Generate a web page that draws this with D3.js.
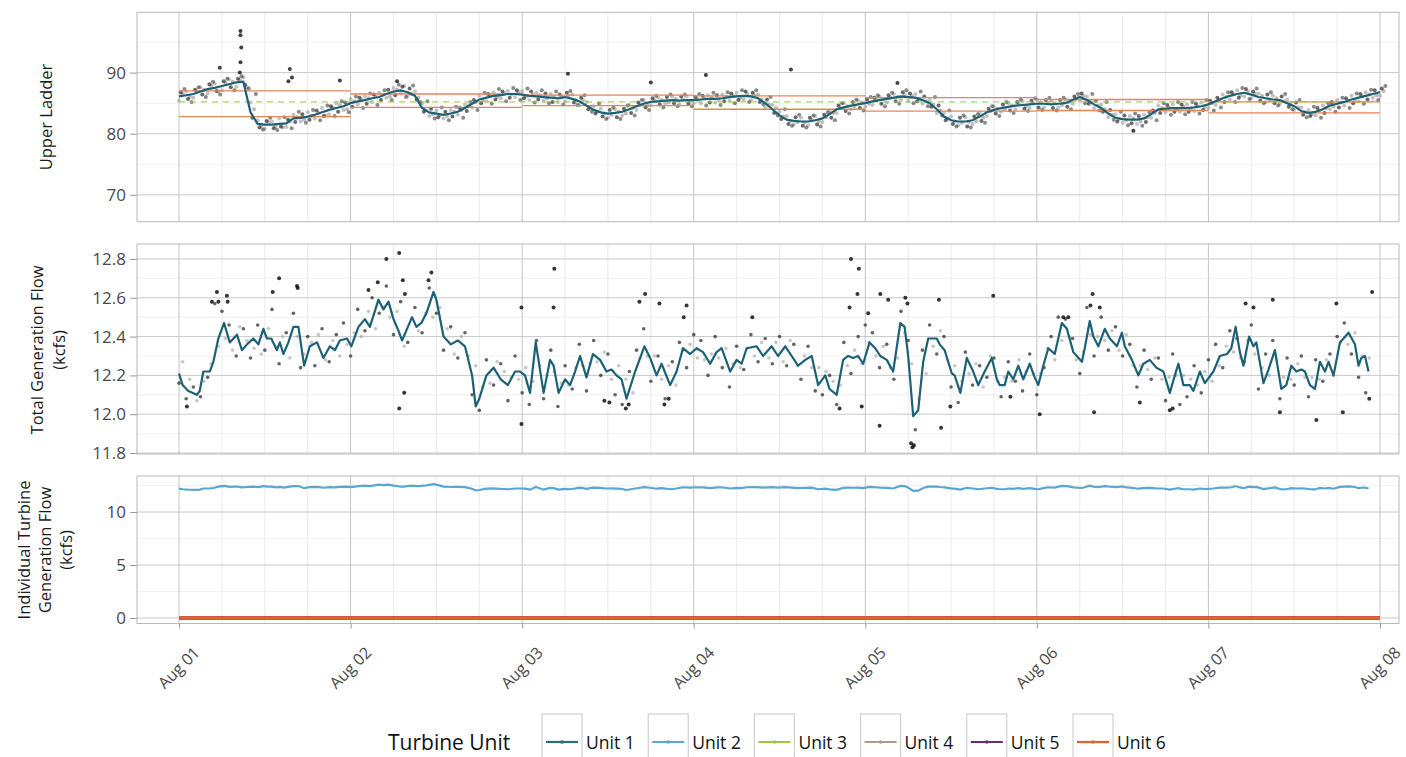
<!DOCTYPE html>
<html>
<head>
<meta charset="utf-8">
<script src="https://cdn.jsdelivr.net/npm/d3@7/dist/d3.min.js"></script>
<style>
  html, body { margin: 0; padding: 0; background: #ffffff; }
  svg { display: block; font-family: "Open Sans", "Noto Sans", sans-serif; }
</style>
</head>
<body>
<svg id="chart" width="1406" height="757"></svg>
<script>
// ---------- categories ----------
const dayLabels = ["Aug 01", "Aug 02", "Aug 03", "Aug 04", "Aug 05", "Aug 06", "Aug 07", "Aug 08"];
const dayHours = [0, 24, 48, 72, 96, 120, 144, 168];
const unitNames = ["Unit 1", "Unit 2", "Unit 3", "Unit 4", "Unit 5", "Unit 6"];
const unitColors = ["#2b6f72", "#5aa6d0", "#9cc93a", "#a99d8c", "#6d2b6e", "#e0622c"];

// ---------- upper ladder (hourly, hour 0 = Aug 01 00:00) ----------
const ladderUnit1 = [
  86.1, 86.3, 86.5, 86.9, 87.3, 87.5, 87.8, 88.1, 88.4, 88.5, 83.5, 81.6, 81.5, 81.5, 81.6, 81.7, 82.5, 82.6, 82.8, 83.1, 83.5, 83.9, 84.2, 84.5, 85.0,
  85.3, 85.5, 85.8, 86.0, 86.5, 86.9, 87.1, 86.8, 86.2, 84.2, 83.5, 83.3, 83.1, 83.3, 83.6, 84.2, 84.9, 85.6, 85.9, 86.2, 86.3, 86.5, 86.5, 86.4,
  86.2, 86.1, 86.0, 85.9, 85.8, 86.0, 85.7, 85.3, 84.6, 83.9, 83.5, 83.3, 83.4, 83.6, 84.0, 84.5, 84.9, 85.2, 85.3, 85.4, 85.5, 85.4, 85.5, 85.5,
  85.6, 85.7, 85.7, 85.8, 86.0, 86.1, 86.2, 86.1, 85.8, 85.0, 84.0, 83.0, 82.3, 82.1, 82.0, 82.0, 82.2, 82.5, 83.2, 84.0, 84.3, 84.6, 84.8, 85.0,
  85.3, 85.5, 85.7, 85.9, 86.1, 86.0, 85.9, 85.5, 85.0, 84.0, 82.8, 82.2, 82.0, 82.0, 82.2, 82.8, 83.5, 83.9, 84.2, 84.4, 84.6, 84.7, 84.8, 84.9,
  84.9, 84.8, 84.9, 85.0, 85.5, 86.0, 85.5, 84.8, 84.2, 83.3, 82.6, 82.4, 82.3, 82.3, 82.5, 83.2, 84.0, 84.1, 84.2, 84.2, 84.2, 84.3, 84.5, 84.8,
  85.3, 85.8, 86.2, 86.5, 86.7, 86.4, 86.0, 85.8, 85.6, 85.5, 85.0, 84.5, 83.7, 83.4, 83.6, 84.0, 84.6, 84.9, 85.2, 85.6, 85.9, 86.2, 86.5, 86.8
];
const ladderObsA = [
  86.8, 85.7, 87.2, 86.4, 88.1, 87.0, 88.6, 87.6, 89.0, 88.0, 82.6, 81.0, 82.1, 80.9, 81.2, 82.3, 81.9, 83.2, 82.3, 83.8, 82.9, 84.5, 83.6, 85.1, 84.4,
  85.9, 84.9, 86.4, 85.5, 87.2, 86.3, 87.7, 87.4, 85.6, 83.6, 84.1, 82.7, 83.6, 82.8, 84.2, 83.7, 85.5, 85.0, 86.5, 85.6, 86.9, 85.9, 87.1, 85.8,
  86.9, 85.6, 86.6, 85.2, 86.4, 86.7, 85.1, 85.9, 84.0, 83.3, 82.8, 83.9, 82.7, 84.1, 83.4, 85.1, 84.3, 85.8, 84.8, 86.0, 85.0, 86.1, 84.9, 86.0,
  86.2, 85.1, 86.3, 85.3, 86.6, 85.5, 86.9, 86.7, 85.2, 85.6, 83.4, 82.4, 81.6, 82.7, 81.3, 82.6, 81.5, 83.1, 82.6, 84.6, 83.7, 85.2, 84.2, 85.6,
  85.9, 84.9, 86.3, 85.3, 86.8, 86.6, 85.3, 86.1, 84.4, 84.6, 82.2, 81.6, 82.6, 81.2, 82.8, 82.1, 84.1, 83.3, 84.8, 83.8, 85.2, 84.1, 85.4, 84.3,
  85.5, 84.2, 85.5, 84.4, 86.1, 86.6, 84.9, 85.4, 83.6, 83.9, 82.0, 83.0, 81.7, 82.9, 81.9, 83.8, 83.4, 84.7, 83.6, 84.8, 83.6, 84.9, 83.9, 85.4,
  85.9, 85.2, 86.8, 85.9, 87.3, 86.9, 85.4, 86.4, 85.0, 86.1, 84.4, 85.1, 83.1, 82.9, 84.2, 83.4, 85.2, 84.3, 85.8, 85.0, 86.5, 85.6, 87.1, 87.4
];
const ladderObsB = [
  85.4, 86.9, 85.9, 87.6, 86.6, 88.2, 87.1, 88.9, 87.7, 89.2, 85.1, 82.2, 80.8, 82.0, 82.5, 81.1, 83.1, 82.0, 83.5, 82.5, 84.2, 83.2, 85.0, 83.9, 85.7,
  84.8, 86.1, 85.2, 86.7, 85.9, 87.5, 86.6, 86.2, 86.9, 84.9, 82.9, 83.8, 82.5, 83.9, 83.1, 84.8, 84.3, 86.2, 85.3, 86.8, 85.8, 87.0, 86.0, 87.0,
  85.5, 86.7, 85.4, 86.5, 85.2, 85.3, 86.4, 84.7, 85.2, 84.5, 84.1, 82.6, 84.0, 83.0, 84.7, 83.9, 85.5, 84.6, 85.9, 84.9, 86.1, 84.8, 86.1, 85.0,
  85.0, 86.3, 85.1, 86.4, 85.4, 86.7, 85.6, 85.5, 86.4, 84.3, 84.7, 83.6, 82.9, 81.5, 82.6, 81.4, 82.9, 81.9, 83.8, 83.4, 85.0, 84.0, 85.4, 84.4,
  84.7, 86.1, 85.1, 86.5, 85.5, 85.4, 86.5, 84.9, 85.6, 83.4, 83.4, 82.8, 81.4, 82.7, 81.6, 83.4, 82.9, 84.5, 83.6, 85.0, 84.0, 85.3, 84.2, 85.5,
  84.3, 85.4, 84.3, 85.6, 84.9, 85.4, 86.1, 84.2, 84.8, 82.7, 83.2, 81.8, 82.9, 81.6, 83.1, 82.6, 84.6, 83.5, 84.8, 83.6, 84.8, 83.7, 85.1, 84.2,
  84.7, 86.4, 85.6, 87.1, 86.1, 85.8, 86.6, 85.2, 86.2, 84.9, 85.6, 83.9, 84.3, 83.9, 83.0, 84.6, 84.0, 85.5, 84.6, 86.2, 85.3, 86.8, 85.9, 86.2
];
const ladderObsC = [
  86.5, 86.0, 86.9, 87.2, 87.9, 86.9, 88.3, 88.5, 88.8, 87.6, 84.0, 81.3, 81.9, 81.2, 81.0, 82.0, 82.7, 82.3, 82.9, 83.4, 83.0, 84.3, 84.7, 84.0, 85.3,
  85.6, 85.8, 86.2, 86.4, 86.1, 87.2, 87.8, 86.5, 85.9, 83.8, 83.2, 83.0, 82.9, 83.6, 83.9, 84.5, 85.2, 85.4, 86.2, 86.0, 86.6, 86.4, 86.8, 86.1,
  86.4, 86.3, 85.8, 86.1, 86.0, 86.2, 85.5, 85.5, 84.4, 83.6, 83.3, 83.1, 83.6, 83.3, 84.2, 84.7, 84.6, 85.4, 85.5, 85.1, 85.7, 85.6, 85.3, 85.7,
  85.8, 85.9, 85.5, 86.1, 86.2, 85.8, 86.5, 86.3, 85.6, 84.8, 84.2, 82.8, 82.1, 81.9, 81.8, 82.3, 82.0, 82.7, 83.4, 84.2, 84.5, 84.4, 85.1, 84.9,
  85.5, 85.7, 85.9, 86.0, 86.3, 86.2, 85.7, 85.3, 84.8, 83.8, 82.5, 82.0, 81.8, 81.9, 82.0, 82.6, 83.7, 84.1, 84.0, 84.6, 84.8, 84.5, 85.0, 85.1,
  85.0, 85.0, 84.7, 85.2, 85.7, 86.2, 85.3, 84.6, 84.0, 83.1, 82.4, 82.2, 82.5, 82.0, 82.7, 83.4, 84.2, 84.3, 84.0, 84.4, 84.0, 84.5, 84.3, 85.0,
  85.5, 86.0, 86.4, 86.3, 86.9, 86.6, 86.2, 85.6, 85.8, 85.3, 84.8, 84.3, 83.5, 83.2, 83.8, 84.2, 84.4, 85.1, 85.4, 85.4, 86.1, 86.4, 86.3, 87.0
];
const ladderObsD = [
  87.3, 85.2, 87.6, 86.0, 88.5, 86.4, 89.0, 87.1, 89.4, 87.4, 86.5, 80.7, 82.6, 80.6, 82.7, 80.9, 83.6, 81.8, 83.9, 82.2, 84.6, 82.9, 85.3, 83.5, 86.1,
  84.2, 86.6, 84.7, 87.1, 85.5, 88.0, 86.0, 87.9, 85.2, 85.3, 82.5, 84.3, 82.2, 84.4, 82.6, 85.2, 83.9, 86.7, 84.9, 87.3, 85.3, 87.5, 85.5, 87.4,
  85.1, 87.1, 85.0, 86.9, 84.8, 87.0, 84.7, 86.3, 83.6, 84.9, 82.4, 84.3, 82.4, 84.6, 83.0, 85.5, 83.9, 86.2, 84.3, 86.4, 84.5, 86.4, 84.5, 86.5,
  84.6, 86.7, 84.7, 86.8, 85.0, 87.1, 85.2, 87.1, 84.8, 86.0, 83.0, 84.0, 81.3, 83.1, 81.0, 83.0, 81.2, 83.5, 82.2, 85.0, 83.3, 85.6, 83.8, 86.0,
  86.3, 84.5, 86.7, 84.9, 87.1, 85.0, 86.9, 84.5, 86.0, 83.0, 83.8, 81.2, 83.0, 81.0, 83.2, 81.8, 84.5, 82.9, 85.2, 83.4, 85.6, 83.7, 85.8, 83.9,
  85.9, 83.8, 85.9, 84.0, 86.5, 85.0, 86.5, 83.8, 85.2, 82.3, 83.6, 81.4, 83.3, 81.3, 83.5, 82.2, 85.0, 83.1, 85.2, 83.2, 85.2, 83.3, 85.5, 83.8,
  84.3, 86.8, 85.2, 87.5, 85.7, 87.4, 85.0, 86.8, 84.6, 86.5, 84.0, 85.5, 82.7, 84.4, 82.6, 85.0, 83.6, 85.9, 84.2, 86.6, 84.9, 87.2, 85.5, 87.8
];
const ladderOutlierHours  = [8.6, 8.6, 8.7, 8.6, 8.5, 5.7, 15.5, 15.8, 15.3, 22.5, 54.4, 73.7, 85.6, 133.5, 30.5, 66.0, 100.5];
const ladderOutlierValues = [96.8, 96.1, 94.1, 91.7, 90.0, 90.8, 90.6, 89.2, 88.6, 88.7, 89.8, 89.6, 90.5, 80.5, 88.6, 88.4, 88.3];

// daily criteria band for the ladder and the target level
const criteriaStart = [0, 24, 48, 72, 96, 120, 144];
const criteriaEnd   = [24, 48, 72, 96, 120, 144, 168];
const criteriaUpper = [87.0, 86.5, 86.3, 86.2, 85.9, 85.6, 85.2];
const criteriaLower = [82.8, 84.3, 84.6, 84.0, 83.7, 83.8, 83.4];
const targetLevel = 85.2;

// ---------- total generation flow (kcfs) ----------
const flowHours = [
  0, 0.5, 1.3, 2.5, 2.9, 3.4, 4.3, 4.8, 5.5, 6.3,
  7.1, 8.1, 8.8, 9.5, 10.4, 11.1, 11.8, 12.3, 12.9, 13.7,
  14.1, 14.6, 15.3, 16.0, 16.7, 17.5, 18.3, 19.3, 20.2, 21.1,
  21.8, 22.5, 23.5, 24.1, 25.1, 26.0, 26.7, 27.9, 28.6, 29.3,
  30.0, 30.7, 31.2, 31.9, 32.6, 33.2, 33.9, 34.6, 35.6, 36.0,
  37.0, 38.0, 39.0, 40.0, 41.0, 41.5, 42.0, 43.0, 44.0, 45.0,
  46.0, 47.0, 47.7, 48.4, 49.1, 49.9, 51.0, 51.9, 52.4, 53.1,
  54.0, 54.7, 55.4, 56.1, 57.0, 57.9, 58.9, 59.8, 60.5, 61.2,
  61.9, 62.6, 63.8, 65.1, 65.9, 66.8, 67.5, 68.7, 69.6, 70.5,
  71.5, 72.4, 73.3, 74.3, 75.2, 75.9, 77.1, 78.0, 78.7, 79.4,
  80.8, 81.7, 82.9, 83.8, 84.8, 85.7, 86.6, 87.6, 88.5, 89.4,
  90.4, 91.0, 92.0, 92.9, 93.6, 94.3, 95.0, 95.7, 96.6, 97.4,
  98.1, 99.0, 99.9, 100.9, 101.5, 102.0, 102.7, 103.4, 104.1, 104.8,
  106.0, 106.4, 107.1, 108.1, 108.5, 109.3, 110.2, 111.1, 111.8, 112.7,
  113.7, 114.4, 114.8, 115.5, 116.0, 116.7, 117.4, 118.1, 119.0, 119.7,
  120.2, 120.9, 121.6, 122.5, 123.5, 124.2, 125.1, 126.3, 126.7, 127.4,
  127.9, 128.6, 129.5, 130.2, 131.2, 131.9, 132.3, 133.3, 134.2, 134.9,
  135.8, 136.7, 137.7, 138.6, 139.3, 139.8, 140.5, 141.4, 141.9, 142.8,
  143.5, 144.7, 145.6, 146.6, 147.2, 147.8, 148.4, 148.9, 149.7, 150.3,
  150.7, 151.7, 152.4, 153.3, 154.2, 154.9, 155.6, 156.3, 157.0, 157.5,
  158.2, 158.9, 159.6, 160.3, 160.8, 161.5, 162.4, 163.6, 164.5, 165.0,
  165.4, 165.9, 166.4
];
const flowTotal = [
  12.21, 12.15, 12.12, 12.10, 12.12, 12.22, 12.22, 12.27, 12.39, 12.47,
  12.37, 12.41, 12.33, 12.36, 12.39, 12.36, 12.44, 12.39, 12.39, 12.33,
  12.37, 12.31, 12.37, 12.45, 12.45, 12.25, 12.35, 12.37, 12.29, 12.35,
  12.33, 12.38, 12.39, 12.35, 12.45, 12.49, 12.45, 12.59, 12.54, 12.58,
  12.49, 12.43, 12.38, 12.44, 12.50, 12.45, 12.47, 12.52, 12.63, 12.59,
  12.40, 12.36, 12.38, 12.35, 12.20, 12.04, 12.08, 12.20, 12.24, 12.18,
  12.15, 12.22, 12.22, 12.20, 12.11, 12.37, 12.11, 12.28, 12.25, 12.11,
  12.18, 12.15, 12.22, 12.30, 12.19, 12.31, 12.28, 12.22, 12.23, 12.20,
  12.18, 12.08, 12.22, 12.35, 12.29, 12.20, 12.26, 12.15, 12.22, 12.34,
  12.31, 12.34, 12.32, 12.26, 12.32, 12.34, 12.22, 12.28, 12.26, 12.34,
  12.35, 12.30, 12.35, 12.30, 12.35, 12.30, 12.25, 12.28, 12.30, 12.15,
  12.20, 12.13, 12.10, 12.28, 12.30, 12.29, 12.30, 12.26, 12.37, 12.34,
  12.30, 12.28, 12.22, 12.47, 12.45, 12.30, 11.99, 12.02, 12.27, 12.39,
  12.39, 12.36, 12.33, 12.21, 12.20, 12.11, 12.29, 12.22, 12.15, 12.22,
  12.29, 12.18, 12.15, 12.15, 12.22, 12.18, 12.25, 12.18, 12.26, 12.19,
  12.15, 12.25, 12.34, 12.31, 12.47, 12.44, 12.32, 12.27, 12.34, 12.48,
  12.40, 12.35, 12.44, 12.39, 12.35, 12.42, 12.35, 12.28, 12.20, 12.26,
  12.28, 12.24, 12.22, 12.11, 12.20, 12.26, 12.15, 12.15, 12.12, 12.22,
  12.16, 12.22, 12.30, 12.31, 12.34, 12.45, 12.32, 12.25, 12.40, 12.35,
  12.37, 12.16, 12.23, 12.33, 12.13, 12.15, 12.25, 12.22, 12.23, 12.22,
  12.15, 12.13, 12.27, 12.22, 12.27, 12.20, 12.37, 12.42, 12.36, 12.25,
  12.29, 12.30, 12.22
];
// hourly readings (hour 0..166)
const flowObsDark = [
  12.16, 12.08, 12.14, 12.09, 12.19, 12.57, 12.53, 12.46, 12.30, 12.44, 12.29, 12.46, 12.33, 12.54, 12.26, 12.42, 12.52, 12.24, 12.40, 12.25, 12.44, 12.27, 12.41, 12.47, 12.30,
  12.54, 12.43, 12.60, 12.52, 12.66, 12.41, 12.58, 12.37, 12.55, 12.42, 12.65, 12.52, 12.33, 12.45, 12.29, 12.42, 12.10, 12.02, 12.28, 12.15, 12.26, 12.07, 12.30, 12.11,
  12.05, 12.38, 12.08, 12.33, 12.04, 12.25, 12.13, 12.36, 12.12, 12.38, 12.20, 12.31, 12.10, 12.05, 12.22, 12.33, 12.44, 12.17, 12.30, 12.08, 12.27, 12.37, 12.24, 12.41,
  12.38, 12.20, 12.40, 12.24, 12.14, 12.35, 12.23, 12.41, 12.27, 12.39, 12.26, 12.40, 12.25, 12.36, 12.18, 12.35, 12.12, 12.10, 12.20, 12.05, 12.37, 12.21, 12.40, 12.46,
  12.42, 12.24, 12.36, 12.18, 12.53, 12.38, 11.92, 12.33, 12.46, 12.31, 12.40, 12.14, 12.06, 12.32, 12.15, 12.25, 12.19, 12.29, 12.09, 12.27, 12.17, 12.12, 12.31, 12.10,
  12.24, 12.40, 12.50, 12.49, 12.39, 12.21, 12.55, 12.30, 12.50, 12.33, 12.45, 12.30, 12.36, 12.14, 12.33, 12.18, 12.29, 12.07, 12.31, 12.05, 12.09, 12.25, 12.11, 12.28,
  12.36, 12.24, 12.43, 12.39, 12.27, 12.46, 12.13, 12.31, 12.38, 12.08, 12.29, 12.15, 12.30, 12.09, 12.28, 12.17, 12.31, 12.40, 12.47, 12.31, 12.19, 12.11
];
const flowObsLight = [
  12.27, 12.18, 12.07, 12.17, 12.26, 12.35, 12.39, 12.33, 12.45, 12.38, 12.34, 12.31, 12.44, 12.35, 12.40, 12.29, 12.40, 12.31, 12.37, 12.41, 12.28, 12.38, 12.30, 12.36, 12.42,
  12.40, 12.53, 12.44, 12.55, 12.50, 12.53, 12.35, 12.49, 12.43, 12.52, 12.50, 12.55, 12.44, 12.31, 12.40, 12.30, 12.25, 12.14, 12.16, 12.27, 12.22, 12.19, 12.18, 12.24,
  12.17, 12.25, 12.20, 12.22, 12.16, 12.15, 12.24, 12.25, 12.26, 12.27, 12.32, 12.18, 12.25, 12.18, 12.11, 12.29, 12.30, 12.30, 12.18, 12.25, 12.15, 12.33, 12.36, 12.29,
  12.28, 12.31, 12.29, 12.34, 12.26, 12.24, 12.34, 12.30, 12.37, 12.29, 12.37, 12.27, 12.38, 12.25, 12.30, 12.24, 12.24, 12.22, 12.17, 12.15, 12.25, 12.33, 12.26, 12.37,
  12.30, 12.35, 12.24, 12.29, 12.42, 12.26, 12.08, 12.21, 12.35, 12.43, 12.28, 12.25, 12.17, 12.21, 12.26, 12.14, 12.30, 12.17, 12.19, 12.17, 12.28, 12.22, 12.21, 12.21,
  12.34, 12.28, 12.38, 12.40, 12.28, 12.32, 12.41, 12.40, 12.38, 12.43, 12.33, 12.41, 12.25, 12.25, 12.23, 12.29, 12.18, 12.19, 12.20, 12.20, 12.18, 12.15, 12.22, 12.17,
  12.25, 12.35, 12.32, 12.29, 12.38, 12.31, 12.24, 12.20, 12.28, 12.19, 12.18, 12.26, 12.19, 12.19, 12.18, 12.28, 12.20, 12.37, 12.36, 12.42, 12.30, 12.29
];
const flowOutlierHours = [
  1.1, 4.6, 5.3, 5.5, 6.7, 6.8, 13.1, 14.0, 16.5, 16.6,
  27.8, 29.0, 26.5, 30.8, 30.8, 31.5, 31.3, 31.6, 35.3, 34.9,
  47.9, 47.9, 52.5, 52.4, 64.4, 65.2, 67.2, 71.0, 70.6, 62.5,
  62.9, 60.2, 59.5, 67.9, 68.5, 80.2, 94.0, 95.1, 94.9, 93.8,
  98.1, 99.2, 96.4, 98.0, 102.4, 102.6, 102.8, 101.6, 101.9, 106.3,
  106.6, 92.4, 95.5, 113.9, 127.8, 153.0, 166.9, 161.9, 149.2, 150.3,
  127.5, 128.8, 123.7, 124.4, 128.0, 159.1, 154.0, 162.8, 139.0, 138.6,
  120.4, 107.9, 166.5, 116.3, 134.4
];
const flowOutlierValues = [
  12.04, 12.58, 12.63, 12.58, 12.61, 12.58, 12.63, 12.70, 12.66, 12.65,
  12.68, 12.80, 12.64, 12.83, 12.03, 12.11, 12.69, 12.62, 12.73, 12.69,
  11.95, 12.55, 12.75, 12.55, 12.58, 12.62, 12.57, 12.56, 12.50, 12.03,
  12.05, 12.06, 12.07, 12.05, 12.08, 12.50, 12.80, 12.75, 12.62, 12.55,
  12.62, 12.59, 12.52, 11.94, 11.85, 11.83, 11.84, 12.60, 12.57, 12.59,
  11.93, 12.03, 12.04, 12.61, 12.62, 12.59, 12.63, 12.57, 12.57, 12.55,
  12.56, 12.55, 12.50, 12.50, 12.01, 11.97, 12.01, 12.01, 12.03, 12.02,
  12.00, 12.04, 12.08, 12.09, 12.06
];

// ---------- individual turbine flow: only Unit 2 generates ----------
const unitFlowHours = flowHours;
const unit2Flow = flowTotal;
const idleUnitFlow = [0, 0];          // Units 1, 3, 4, 5, 6 stay at zero
const idleUnitHours = [0, 168];

// ---------- drawing ----------
const svg = d3.select("#chart");
const plotLeft = 137, plotRight = 1399;
const x = d3.scaleLinear().domain([-5.88, 170.66]).range([plotLeft, plotRight]);
const minorHours = d3.range(6, 168, 6).filter(h => h % 24 !== 0);

const ladderColor = "#1c6176";
const font = '"Open Sans", "Noto Sans", sans-serif';

function makePanel(id, top, bottom, domain, major, minor, fmt) {
  const y = d3.scaleLinear().domain(domain).range([bottom, top]);
  const g = svg.append("g").attr("class", "panel-" + id);
  g.append("rect").attr("x", plotLeft).attr("y", top)
    .attr("width", plotRight - plotLeft).attr("height", bottom - top).attr("fill", "#ffffff");
  // minor grid
  g.append("g").selectAll("line").data(minor).join("line")
    .attr("x1", plotLeft).attr("x2", plotRight)
    .attr("y1", d => y(d)).attr("y2", d => y(d))
    .attr("stroke", "#ededed").attr("stroke-width", 0.8);
  g.append("g").selectAll("line").data(minorHours).join("line")
    .attr("x1", d => x(d)).attr("x2", d => x(d))
    .attr("y1", top).attr("y2", bottom)
    .attr("stroke", "#e6e6e6").attr("stroke-width", 0.8);
  // major grid
  g.append("g").selectAll("line").data(major).join("line")
    .attr("x1", plotLeft).attr("x2", plotRight)
    .attr("y1", d => y(d)).attr("y2", d => y(d))
    .attr("stroke", "#c9c9c9").attr("stroke-width", 1);
  g.append("g").selectAll("line").data(dayHours).join("line")
    .attr("x1", d => x(d)).attr("x2", d => x(d))
    .attr("y1", top).attr("y2", bottom)
    .attr("stroke", "#c4c4c4").attr("stroke-width", 1);

  svg.append("clipPath").attr("id", "clip-" + id).append("rect")
    .attr("x", plotLeft).attr("y", top).attr("width", plotRight - plotLeft).attr("height", bottom - top);
  const plot = svg.append("g").attr("clip-path", `url(#clip-${id})`);

  // border
  svg.append("rect").attr("x", plotLeft).attr("y", top)
    .attr("width", plotRight - plotLeft).attr("height", bottom - top)
    .attr("fill", "none").attr("stroke", "#b8b8b8").attr("stroke-width", 1);

  // y axis
  const ax = svg.append("g").attr("transform", `translate(${plotLeft},0)`)
    .call(d3.axisLeft(y).tickValues(major).tickSize(7).tickPadding(4).tickFormat(fmt));
  ax.select(".domain").remove();
  ax.selectAll(".tick line").attr("stroke", "#9a9a9a");
  ax.selectAll(".tick text").attr("font-size", 17).attr("fill", "#4a4a4a").attr("font-family", font);
  return { y, plot };
}

// ----- panel 1: upper ladder -----
const p1 = makePanel("ladder", 12.3, 221.7, [65.6, 99.87], [70, 80, 90], [75, 85, 95], d3.format("d"));
const hourIdx = d3.range(ladderUnit1.length);

function ladderDots(values, shift, color, opacity) {
  p1.plot.append("g").selectAll("circle").data(hourIdx).join("circle")
    .attr("cx", i => x(i + shift)).attr("cy", i => p1.y(values[i]))
    .attr("r", 2).attr("fill", color).attr("opacity", opacity);
}
ladderDots(ladderObsB, 0, "#9a9a9a", 0.6);
ladderDots(ladderObsC, 0.5, "#8f7f70", 0.55);
ladderDots(ladderObsD, 0.75, "#2a2a2a", 0.55);
ladderDots(ladderObsA, 0.25, "#1a1a1a", 0.65);
p1.plot.append("g").selectAll("circle").data(d3.range(ladderOutlierHours.length)).join("circle")
  .attr("cx", i => x(ladderOutlierHours[i])).attr("cy", i => p1.y(ladderOutlierValues[i]))
  .attr("r", 2).attr("fill", "#111").attr("opacity", 0.8);

// criteria band
const seg = d3.range(criteriaStart.length);
p1.plot.append("g").selectAll("line").data(seg).join("line")
  .attr("x1", i => x(criteriaStart[i])).attr("x2", i => x(criteriaEnd[i]))
  .attr("y1", i => p1.y(criteriaUpper[i])).attr("y2", i => p1.y(criteriaUpper[i]))
  .attr("stroke", "#e8835a").attr("stroke-width", 1.3);
p1.plot.append("g").selectAll("line").data(seg).join("line")
  .attr("x1", i => x(criteriaStart[i])).attr("x2", i => x(criteriaEnd[i]))
  .attr("y1", i => p1.y(criteriaLower[i])).attr("y2", i => p1.y(criteriaLower[i]))
  .attr("stroke", "#e8835a").attr("stroke-width", 1.3);
p1.plot.append("line")
  .attr("x1", x(0)).attr("x2", x(168))
  .attr("y1", p1.y(targetLevel)).attr("y2", p1.y(targetLevel))
  .attr("stroke", "#9cc93a").attr("stroke-width", 1.2).attr("stroke-dasharray", "6,5").attr("opacity", 0.8);

p1.plot.append("path").datum(hourIdx)
  .attr("d", d3.line().x(i => x(i)).y(i => p1.y(ladderUnit1[i])))
  .attr("fill", "none").attr("stroke", ladderColor).attr("stroke-width", 2.2);

// ----- panel 2: total generation flow -----
const p2 = makePanel("flow", 244, 454, [11.795, 12.877], [11.8, 12.0, 12.2, 12.4, 12.6, 12.8],
  [11.9, 12.1, 12.3, 12.5, 12.7], d3.format(".1f"));
const obsIdx = d3.range(flowObsDark.length);
p2.plot.append("g").selectAll("circle").data(obsIdx).join("circle")
  .attr("cx", i => x(i + 0.5)).attr("cy", i => p2.y(flowObsLight[i]))
  .attr("r", 1.8).attr("fill", "#9a9a9a").attr("opacity", 0.55);
p2.plot.append("g").selectAll("circle").data(obsIdx).join("circle")
  .attr("cx", i => x(i)).attr("cy", i => p2.y(flowObsDark[i]))
  .attr("r", 1.8).attr("fill", "#222").attr("opacity", 0.7);
p2.plot.append("g").selectAll("circle").data(d3.range(flowOutlierHours.length)).join("circle")
  .attr("cx", i => x(flowOutlierHours[i])).attr("cy", i => p2.y(flowOutlierValues[i]))
  .attr("r", 2).attr("fill", "#111").attr("opacity", 0.85);
p2.plot.append("path").datum(d3.range(flowHours.length))
  .attr("d", d3.line().x(i => x(flowHours[i])).y(i => p2.y(flowTotal[i])))
  .attr("fill", "none").attr("stroke", ladderColor).attr("stroke-width", 2.2).attr("stroke-linejoin", "round");

// ----- panel 3: individual turbine flow -----
const p3 = makePanel("units", 476, 623.5, [-0.52, 13.4], [0, 5, 10], [2.5, 7.5, 12.5], d3.format("d"));
const idleLine = d3.line().x(i => x(idleUnitHours[i])).y(i => p3.y(idleUnitFlow[i]));
[0, 2, 3, 4, 5].forEach(u => {
  p3.plot.append("path").datum(d3.range(idleUnitHours.length)).attr("d", idleLine)
    .attr("fill", "none").attr("stroke", unitColors[u]).attr("stroke-width", 3.5);
});
p3.plot.append("path").datum(d3.range(unitFlowHours.length))
  .attr("d", d3.line().x(i => x(unitFlowHours[i])).y(i => p3.y(unit2Flow[i])))
  .attr("fill", "none").attr("stroke", unitColors[1]).attr("stroke-width", 2.2);

// x axis under the last panel
const xa = svg.append("g").attr("transform", "translate(0,623.5)")
  .call(d3.axisBottom(x).tickValues(dayHours).tickSize(5).tickFormat((d, i) => dayLabels[i]));
xa.select(".domain").remove();
xa.selectAll(".tick line").attr("stroke", "#9a9a9a");
xa.selectAll(".tick text")
  .attr("y", 0).attr("dy", null)
  .attr("text-anchor", "middle").attr("dominant-baseline", "central")
  .attr("transform", "translate(-1,44) rotate(-45)")
  .attr("font-size", 16).attr("fill", "#4a4a4a").attr("font-family", font);

// axis titles
function yTitle(lines, cx, cy, gap) {
  const t = svg.append("g").attr("transform", `translate(${cx},${cy}) rotate(-90)`);
  lines.forEach((s, k) => {
    t.append("text").attr("x", 0).attr("y", (k - (lines.length - 1) / 2) * gap)
      .attr("text-anchor", "middle").attr("dominant-baseline", "central")
      .attr("font-size", 16.5).attr("fill", "#1a1a1a").attr("font-family", font).text(s);
  });
}
yTitle(["Upper Ladder"], 45, 117, 21);
yTitle(["Total Generation Flow", "(kcfs)"], 47, 350, 22);
yTitle(["Individual Turbine", "Generation Flow", "(kcfs)"], 44, 550, 21);

// legend
const legend = svg.append("g");
legend.append("text").attr("x", 388).attr("y", 742)
  .attr("dominant-baseline", "central").attr("font-size", 21).attr("fill", "#111")
  .attr("font-family", font).text("Turbine Unit");
const keyX = d3.scalePoint().domain(unitNames).range([542, 1073]);
const keys = legend.selectAll("g.key").data(unitNames).join("g").attr("class", "key")
  .attr("transform", d => `translate(${keyX(d)},714)`);
keys.append("rect").attr("width", 40).attr("height", 44)
  .attr("fill", "#ffffff").attr("stroke", "#c8c8c8").attr("stroke-width", 1);
keys.append("line").attr("x1", 4).attr("x2", 36).attr("y1", 28).attr("y2", 28)
  .attr("stroke", (d, i) => unitColors[i]).attr("stroke-width", 2.2);
keys.append("circle").attr("cx", 20).attr("cy", 28).attr("r", 1.8)
  .attr("fill", (d, i) => unitColors[i]);
keys.append("text").attr("x", 44).attr("y", 28)
  .attr("dominant-baseline", "central").attr("font-size", 17.5).attr("fill", "#111")
  .attr("font-family", font).text(d => d);
</script>
</body>
</html>
